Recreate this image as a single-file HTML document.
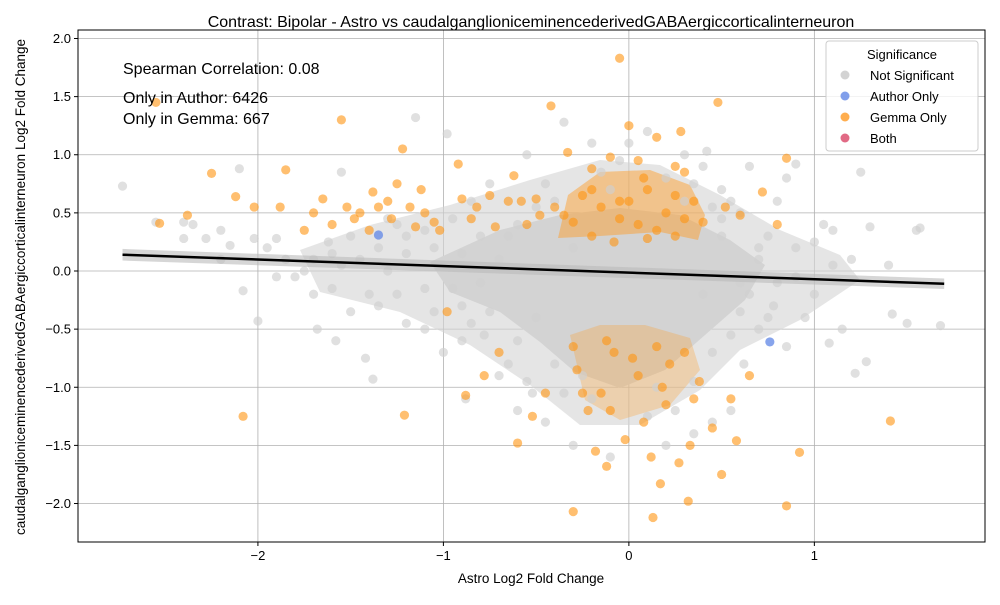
<!DOCTYPE html>
<html><head><meta charset="utf-8"><style>
body{margin:0;background:#fff;font-family:"Liberation Sans",sans-serif;}
svg text{font-family:"Liberation Sans",sans-serif;}
</style></head><body>
<svg id="chart" width="1000" height="600" xmlns="http://www.w3.org/2000/svg">
<rect x="0" y="0" width="1000" height="600" fill="#fff"/>
<g id="grid"></g>
<g id="density">
<path d="M300,250 L370,225 L450,205 L530,180 L600,160 L660,165 L720,195 L780,230 L840,255 L860,280 L800,320 L740,350 L700,390 L640,425 L580,425 L530,385 L470,345 L400,312 L320,292 Z" fill="#d3d3d3" opacity="0.6"/>
<path d="M430,262 L500,230 L560,215 L620,208 L680,215 L730,240 L765,265 L745,300 L705,335 L665,370 L620,388 L575,372 L540,342 L500,312 L450,292 Z" fill="#d3d3d3"/>
<path d="M558,238 L568,195 L600,172 L650,170 L690,185 L705,215 L698,240 L660,232 L600,236 Z" fill="#ff9a20" opacity="0.45"/>
<path d="M570,335 L600,325 L645,325 L690,338 L700,370 L670,405 L620,420 L585,400 Z" fill="#ff9a20" opacity="0.28"/>
</g>
<g id="pts"></g>
<g id="fit"></g>
<rect x="78" y="30" width="907" height="512" fill="none" stroke="#000" stroke-width="1"/>
<g id="axes"></g>
<text x="531" y="27" font-size="16" text-anchor="middle">Contrast: Bipolar - Astro vs caudalganglioniceminencederivedGABAergiccorticalinterneuron</text>
<text x="531" y="583" font-size="13.5" text-anchor="middle">Astro Log2 Fold Change</text>
<text transform="translate(25,287) rotate(-90)" font-size="13.5" text-anchor="middle">caudalganglioniceminencederivedGABAergiccorticalinterneuron Log2 Fold Change</text>
<text x="123" y="74" font-size="16">Spearman Correlation: 0.08</text>
<text x="123" y="103" font-size="16">Only in Author: 6426</text>
<text x="123" y="124" font-size="16">Only in Gemma: 667</text>
<g>
<rect x="826" y="41" width="152" height="110" rx="3" fill="#fff" fill-opacity="0.8" stroke="#ccc"/>
<text x="902" y="59" font-size="13" text-anchor="middle">Significance</text>
<g><circle cx="845" cy="75" r="4.5" fill="#d3d3d3"/><text x="870" y="80" font-size="13">Not Significant</text></g>
<g><circle cx="845" cy="96" r="4.5" fill="#6b8ee8" opacity="0.85"/><text x="870" y="101" font-size="13">Author Only</text></g>
<g><circle cx="845" cy="117" r="4.5" fill="#ffa030" opacity="0.85"/><text x="870" y="122" font-size="13">Gemma Only</text></g>
<g><circle cx="845" cy="138" r="4.5" fill="#dc5070" opacity="0.85"/><text x="870" y="143" font-size="13">Both</text></g>
</g>
</svg>
<script>
const xTicks=[-2,-1,0,1];
const yTicks=[-2.0,-1.5,-1.0,-0.5,0.0,0.5,1.0,1.5,2.0];
const fitStart=[-2.73,0.14];
const fitEnd=[1.7,-0.11];
const grayPts=[[-2.73,0.73],[-2.55,0.42],[-2.4,0.42],[-2.35,0.4],[-2.28,0.28],[-2.2,0.35],[-2.15,0.22],[-2.1,0.88],[-2.08,-0.17],[-2.02,0.28],[-2.0,-0.43],[-1.95,0.2],[-1.9,0.28],[-1.85,0.1],[-1.8,-0.05],[-1.75,0.0],[-1.7,-0.2],[-1.68,-0.5],[-1.62,0.25],[-1.6,-0.15],[-1.58,-0.6],[-1.55,0.85],[-1.5,-0.35],[-1.45,0.1],[-1.42,-0.75],[-1.38,-0.93],[-1.35,-0.3],[-1.3,0.45],[-1.25,-0.2],[-1.2,0.3],[-1.15,1.32],[-1.1,-0.5],[-1.05,0.2],[-1.0,-0.7],[-0.98,1.18],[-0.95,0.45],[-0.9,-0.3],[-0.88,-1.1],[-0.85,0.6],[-0.8,-0.1],[-0.78,-0.55],[-0.75,0.75],[-0.7,-0.9],[-0.65,0.3],[-0.6,-1.2],[-0.55,1.0],[-0.52,-1.05],[-0.5,0.55],[-0.45,-1.3],[-0.35,1.28],[-0.3,-1.5],[-0.2,1.1],[-0.1,-1.6],[0.0,1.1],[0.1,1.2],[0.2,-1.5],[0.3,1.0],[0.35,-1.4],[0.4,0.9],[0.42,1.03],[0.45,-1.3],[0.5,0.7],[0.55,-1.2],[0.6,0.5],[0.62,-0.8],[0.65,0.9],[0.7,-0.5],[0.75,0.3],[0.78,-0.3],[0.8,0.6],[0.85,0.8],[0.85,-0.65],[0.9,0.2],[0.95,-0.4],[1.0,0.25],[1.05,0.4],[1.08,-0.62],[1.1,0.35],[1.15,-0.5],[1.2,0.1],[1.22,-0.88],[1.25,0.85],[1.28,-0.78],[1.3,0.38],[1.4,0.05],[1.42,-0.37],[1.5,-0.45],[1.55,0.35],[1.57,0.37],[1.68,-0.47],[0.9,0.92],[-0.05,0.95],[0.15,-1.0],[-0.2,-1.1],[0.25,-1.2],[-0.4,-0.8],[0.3,0.6],[-0.6,0.4],[-1.3,0.0],[-1.9,-0.05],[-1.55,0.05],[-0.7,0.1],[-0.3,0.2],[0.4,-0.2],[0.7,0.1],[-1.0,0.05],[0.6,-0.1],[-0.5,-0.4],[0.5,0.3],[-1.1,0.35],[-0.8,0.3],[-1.2,-0.45],[-0.6,-0.6],[0.55,-0.55],[0.8,-0.1],[-2.2,0.1],[-2.4,0.28],[1.0,-0.2],[-0.25,-0.9],[0.2,0.8],[-0.1,0.7],[-0.9,-0.6],[-0.75,-0.35],[-0.65,-0.8],[0.45,-0.7],[0.6,-0.35],[0.5,0.45],[-0.55,-0.95],[-0.4,0.6],[0.35,0.75],[-1.4,-0.2],[-1.6,0.15],[-1.1,-0.15],[0.9,-0.05],[1.1,0.05],[-1.2,0.15],[-1.05,-0.35],[-0.95,-0.15],[-1.35,0.2],[-1.5,0.3],[-0.9,0.15],[0.65,-0.2],[0.7,0.2],[0.55,0.6],[-0.45,0.75],[-0.35,-1.05],[0.35,-0.95],[0.1,-1.25],[-0.15,0.85],[0.45,0.55],[-1.7,0.1],[-1.25,0.4],[-0.85,-0.45],[0.75,-0.4]];
const gemmaPts=[[-2.55,1.45],[-2.53,0.41],[-2.38,0.48],[-2.25,0.84],[-2.12,0.64],[-2.08,-1.25],[-2.02,0.55],[-1.85,0.87],[-1.88,0.55],[-1.75,0.35],[-1.7,0.5],[-1.65,0.62],[-1.6,0.4],[-1.55,1.3],[-1.52,0.55],[-1.48,0.45],[-1.45,0.5],[-1.4,0.35],[-1.38,0.68],[-1.35,0.55],[-1.3,0.6],[-1.28,0.45],[-1.25,0.75],[-1.22,1.05],[-1.21,-1.24],[-1.18,0.55],[-1.15,0.38],[-1.12,0.7],[-1.1,0.5],[-1.05,0.42],[-1.02,0.35],[-0.98,-0.35],[-0.92,0.92],[-0.9,0.62],[-0.88,-1.07],[-0.85,0.45],[-0.82,0.55],[-0.78,-0.9],[-0.75,0.65],[-0.72,0.38],[-0.7,-0.7],[-0.65,0.6],[-0.62,0.82],[-0.6,-1.48],[-0.58,0.6],[-0.55,0.4],[-0.52,-1.25],[-0.5,0.62],[-0.48,0.48],[-0.45,-1.05],[-0.42,1.42],[-0.4,0.55],[-0.35,0.48],[-0.33,1.02],[-0.3,-2.07],[-0.3,0.42],[-0.28,-0.85],[-0.25,0.65],[-0.22,-1.2],[-0.2,0.88],[-0.18,-1.55],[-0.15,0.55],[-0.12,-1.68],[-0.1,0.98],[-0.08,-0.7],[-0.05,1.83],[-0.05,0.45],[-0.02,-1.45],[0.0,0.6],[0.02,-0.75],[0.05,0.4],[0.08,-1.3],[0.1,0.7],[0.12,-1.6],[0.15,1.15],[0.15,0.35],[0.17,-1.83],[0.18,-1.0],[0.2,0.5],[0.22,-0.8],[0.25,0.9],[0.27,-1.65],[0.3,0.45],[0.32,-1.98],[0.33,-1.5],[0.35,0.6],[0.38,-0.95],[0.4,0.42],[0.45,-1.35],[0.48,1.45],[0.5,-1.75],[0.52,0.55],[0.55,-1.1],[0.58,-1.46],[0.6,0.48],[0.65,-0.9],[0.72,0.68],[0.8,0.4],[0.85,-2.02],[0.85,0.97],[0.92,-1.56],[1.41,-1.29],[0.13,-2.12],[-0.15,-1.05],[0.05,-0.9],[-0.08,0.25],[0.1,0.28],[0.25,0.3],[-0.2,0.3],[0.0,1.25],[0.28,1.2],[-0.12,-0.6],[0.15,-0.65],[0.3,-0.7],[-0.3,-0.65],[0.08,0.8],[-0.05,0.6],[-0.25,-1.05],[0.2,-1.15],[-0.1,-1.2],[0.35,-1.1],[0.25,0.65],[-0.2,0.7],[0.3,0.85],[0.05,0.95]];
const authorPts=[[-1.35,0.31],[0.76,-0.61]];
const NS='http://www.w3.org/2000/svg';
const X0=78,X1=985,Y0=542,Y1=30,xMin=-2.97,xMax=1.92,yMin=-2.331,yMax=2.073;
function sx(v){return X0+(v-xMin)/(xMax-xMin)*(X1-X0);}
function sy(v){return Y0-(v-yMin)/(yMax-yMin)*(Y0-Y1);}
function mk(tag,attrs,parent){const e=document.createElementNS(NS,tag);for(const k in attrs)e.setAttribute(k,attrs[k]);parent.appendChild(e);return e;}
const grid=document.getElementById('grid'),axes=document.getElementById('axes'),pts=document.getElementById('pts'),fit=document.getElementById('fit');
xTicks.forEach(t=>{const x=sx(t);
 const g=mk('line',{x1:x,x2:x,y1:Y1,y2:Y0,stroke:'#b0b0b0','stroke-width':0.8},grid);
 
 
 mk('line',{x1:x,x2:x,y1:Y0,y2:Y0+4,stroke:'#000'},axes);
 const l=mk('text',{x:x,y:Y0+18,'font-size':13,'text-anchor':'middle'},axes);l.textContent=t<0?'\u2212'+Math.abs(t):String(t);
 
 });
yTicks.forEach(t=>{const y=sy(t);
 const g=mk('line',{x1:X0,x2:X1,y1:y,y2:y,stroke:'#b0b0b0','stroke-width':0.8},grid);
 
 
 mk('line',{x1:X0-4,x2:X0,y1:y,y2:y,stroke:'#000'},axes);
 const l=mk('text',{x:X0-7,y:y+4.5,'font-size':13,'text-anchor':'end'},axes);l.textContent=(t<0?'\u2212':'')+Math.abs(t).toFixed(1);
 
 });
function draw(arr,fill,op,name){arr.forEach(p=>{const c=mk('circle',{cx:sx(p[0]),cy:sy(p[1]),r:4.6,fill:fill,'fill-opacity':op},pts);
 
 });}
draw(grayPts,'#cfcfcf',0.65,'point-not-significant');
draw(gemmaPts,'#ff9410',0.6,'point-gemma-only');
draw(authorPts,'#5f86e6',0.75,'point-author-only');
const band=mk('path',{d:`M${sx(fitStart[0])},${sy(fitStart[1]+0.05)} L${sx(fitEnd[0])},${sy(fitEnd[1]+0.045)} L${sx(fitEnd[0])},${sy(fitEnd[1]-0.045)} L${sx(fitStart[0])},${sy(fitStart[1]-0.05)} Z`,fill:'#bbb','fill-opacity':0.6},fit);


const ln=mk('line',{x1:sx(fitStart[0]),y1:sy(fitStart[1]),x2:sx(fitEnd[0]),y2:sy(fitEnd[1]),stroke:'#000','stroke-width':2.5},fit);


</script>
</body></html>
